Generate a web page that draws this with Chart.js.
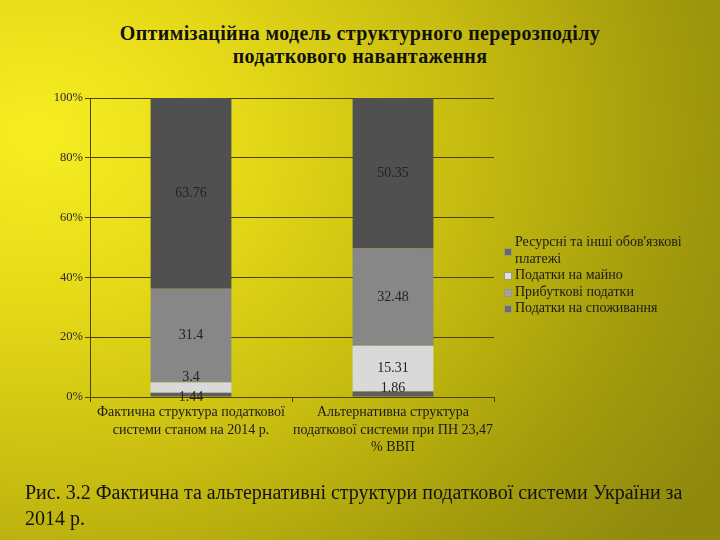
<!DOCTYPE html>
<html>
<head>
<meta charset="utf-8">
<script src="https://cdn.jsdelivr.net/npm/chart.js@4.4.1/dist/chart.umd.min.js"></script>
<style>
    html, body {
        margin: 0;
        padding: 0;
        width: 720px;
        height: 540px;
        overflow: hidden;
    }
    body {
        position: relative;
        font-family: "Liberation Serif", "DejaVu Serif", serif;
        background:
            radial-gradient(ellipse 110% 120% at 5% 25%, #f7ee22 0%, #e6da18 25%, #c6bb10 55%, #a39c0c 80%, #8f890e 100%);
    }
    #titulo {
        position: absolute;
        left: 0;
        top: 22px;
        width: 720px;
        text-align: center;
        font-weight: bold;
        font-size: 20px;
        letter-spacing: 0.35px;
        line-height: 23px;
        color: #111;
    }
    #legenda {
        position: absolute;
        left: 504px;
        top: 234px;
        font-size: 14px;
        line-height: 16.5px;
        color: #1a1a1a;
    }
    #legenda .item {
        position: relative;
        padding-left: 11px;
    }
    #legenda .cx {
        position: absolute;
        left: 0;
        width: 6px;
        height: 6px;
        border: 1px solid #9a9a80;
    }
    #rodape {
        position: absolute;
        left: 25px;
        top: 479px;
        width: 680px;
        font-size: 20px;
        line-height: 26px;
        color: #111;
    }
    #grafico {
        position: absolute;
        left: 0;
        top: 0;
    }
</style>
</head>
<body>
<div id="titulo">Оптимізаційна модель структурного перерозподілу<br>податкового навантаження</div>
<canvas id="grafico" width="720" height="540"></canvas>
<div id="legenda"></div>
<div id="rodape">Рис. 3.2 Фактична та альтернативні структури податкової системи України за 2014 р.</div>

<script>
// ===== DADOS =====
const categorias = [
    ["Фактична структура податкової", "системи станом на 2014 р."],
    ["Альтернативна структура", "податкової системи при ПН 23,47", "% ВВП"]
];

const nomesSeries = [
    "Податки на споживання",
    "Податки на майно",
    "Прибуткові податки",
    "Ресурсні та інші обов'язкові платежі"
];

const spozhyvannia = [1.44, 1.86];
const maino = [3.4, 15.31];
const prybutkovi = [31.4, 32.48];
const resursni = [63.76, 50.35];

const ticksY = [0, 20, 40, 60, 80, 100];

// ordem da legenda (de cima para baixo)
const ordemLegenda = [3, 1, 2, 0];

// ===== ESTILO =====
const cores = ["#5e5e5e", "#d9d9d9", "#878787", "#505050"];
const coresLegenda = ["#6e6e5e", "#e2e2d2", "#a3a393", "#6a6a5a"];
const fonte = "'Liberation Serif', 'DejaVu Serif', serif";

// pequenos deslocamentos dos rótulos pequenos (px)
const ajusteRotulo = {
    "0-0": 3, "1-0": -10, "0-1": -6
};

const series = [spozhyvannia, maino, prybutkovi, resursni];

// ===== RÓTULOS NAS BARRAS =====
const rotulos = {
    id: "rotulos",
    afterDatasetsDraw(chart) {
        const ctx = chart.ctx;
        ctx.save();
        ctx.font = "14px " + fonte;
        ctx.fillStyle = "#222";
        ctx.textAlign = "center";
        ctx.textBaseline = "middle";
        chart.data.datasets.forEach((ds, i) => {
            const meta = chart.getDatasetMeta(i);
            meta.data.forEach((el, j) => {
                const y = (el.y + el.base) / 2 + (ajusteRotulo[i + "-" + j] || 0);
                ctx.fillText(String(ds.data[j]), el.x, y);
            });
        });
        ctx.restore();
    }
};

// ===== LEGENDA HTML =====
const legenda = document.getElementById("legenda");
ordemLegenda.forEach((i) => {
    const div = document.createElement("div");
    div.className = "item";
    const cx = document.createElement("span");
    cx.className = "cx";
    cx.style.background = coresLegenda[i];
    div.appendChild(cx);
    if (i === 3) {
        div.style.width = "190px";
        cx.style.top = "14px";
    } else {
        cx.style.top = "5px";
    }
    div.appendChild(document.createTextNode(nomesSeries[i]));
    legenda.appendChild(div);
});

// ===== GRÁFICO =====
const ctx = document.getElementById("grafico").getContext("2d");

window.grafico = new Chart(ctx, {
    type: "bar",
    data: {
        labels: categorias,
        datasets: series.map((d, i) => ({
            label: nomesSeries[i],
            data: d,
            backgroundColor: cores[i],
            borderWidth: 0,
            barPercentage: 0.4,
            categoryPercentage: 1
        }))
    },
    plugins: [rotulos],
    options: {
        responsive: false,
        animation: false,
        layout: {
            padding: { left: 0, right: 226, top: 98, bottom: 83 }
        },
        plugins: {
            legend: { display: false },
            tooltip: { enabled: false }
        },
        scales: {
            x: {
                stacked: true,
                afterFit(scale) { scale.height = 60; },
                grid: {
                    drawOnChartArea: false,
                    drawTicks: true,
                    tickLength: 5,
                    color: "#4a4400"
                },
                border: { color: "#4a4400", width: 1 },
                ticks: {
                    color: "#1a1a1a",
                    padding: 1,
                    maxRotation: 0,
                    autoSkip: false,
                    font: { family: fonte, size: 14, lineHeight: 1.28 }
                }
            },
            y: {
                stacked: true,
                min: 0,
                max: 100,
                afterFit(scale) { scale.width = 90; },
                afterBuildTicks(scale) {
                    scale.ticks = ticksY.map((v) => ({ value: v }));
                },
                grid: {
                    color: "#4a4400",
                    lineWidth: 1,
                    tickLength: 5
                },
                border: { color: "#4a4400", width: 1 },
                ticks: {
                    color: "#2a2a2a",
                    padding: 2,
                    font: { family: fonte, size: 12.5 },
                    callback: (v) => v + "%"
                }
            }
        }
    }
});
</script>
</body>
</html>
